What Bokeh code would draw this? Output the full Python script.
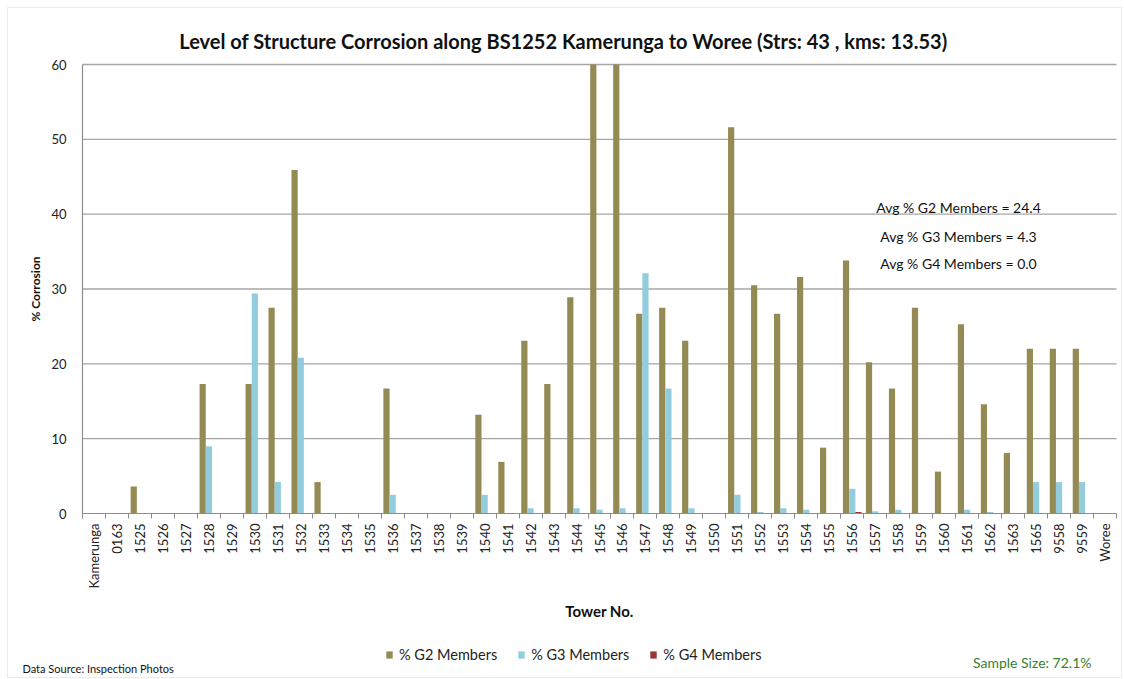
from math import pi

from bokeh.embed import file_html
from bokeh.models import (BoxAnnotation, ColumnDataSource, FixedTicker, Label,
                          Legend, LegendItem, Range1d)
from bokeh.plotting import figure
from bokeh.resources import INLINE
from bokeh.transform import dodge

# Towers along the line, in order
towers = ["Kamerunga", "0163", "1525", "1526", "1527", "1528", "1529", "1530",
          "1531", "1532", "1533", "1534", "1535", "1536", "1537", "1538",
          "1539", "1540", "1541", "1542", "1543", "1544", "1545", "1546",
          "1547", "1548", "1549", "1550", "1551", "1552", "1553", "1554",
          "1555", "1556", "1557", "1558", "1559", "1560", "1561", "1562",
          "1563", "1565", "9558", "9559", "Woree"]

# % of members per corrosion grade
g2 = [0, 0, 3.6, 0, 0, 17.3, 0, 17.3, 27.5, 45.9, 4.2, 0, 0, 16.7, 0, 0,
      0, 13.2, 6.9, 23.1, 17.3, 28.9, 69.4, 69.4, 26.7, 27.5, 23.1, 0, 51.6, 30.5,
      26.7, 31.6, 8.8, 33.8, 20.2, 16.7, 27.5, 5.6, 25.3, 14.6, 8.1, 22.0,
      22.0, 22.0, 0]
g3 = [0, 0, 0, 0, 0, 9.0, 0, 29.4, 4.2, 20.8, 0, 0, 0, 2.5, 0, 0,
      0, 2.5, 0, 0.7, 0, 0.7, 0.5, 0.7, 32.1, 16.7, 0.7, 0, 2.5, 0.2,
      0.7, 0.5, 0, 3.3, 0.3, 0.5, 0, 0, 0.5, 0.2, 0, 4.2,
      4.2, 4.2, 0]
g4 = [0, 0, 0, 0, 0, 0, 0, 0, 0, 0, 0, 0, 0, 0, 0, 0,
      0, 0, 0, 0, 0, 0, 0, 0, 0, 0, 0, 0, 0, 0,
      0, 0, 0, 0.2, 0, 0, 0, 0, 0, 0, 0, 0,
      0, 0, 0]

series_names = ["% G2 Members", "% G3 Members", "% G4 Members"]
series_colors = ["#948a54", "#93cddd", "#953735"]
avg_text = ["Avg % G2 Members = 24.4", "Avg % G3 Members = 4.3",
            "Avg % G4 Members = 0.0"]
y_ticks = [0, 10, 20, 30, 40, 50, 60]
Y_MAX = 60

FONT = "Lato"
W, H = 1124, 679

# The plotting area occupies pixels 82..1116 horizontally and 64..513
# vertically; the data ranges are widened so that the frame fills the
# whole canvas and the notes around the chart can be drawn inside it.
n = len(towers)
px_per_x = (1116 - 82) / n
px_per_y = (513 - 64) / Y_MAX
x_range = Range1d(-0.5 - 82 / px_per_x, n - 0.5 + (W - 1116) / px_per_x)
y_range = Range1d(-(H - 513) / px_per_y, Y_MAX + 64 / px_per_y)


def capped(values):
    # bars stop at the top of the value axis
    return [min(v, Y_MAX) for v in values]


src = ColumnDataSource(dict(idx=list(range(n)), tower=towers,
                            g2=capped(g2), g3=capped(g3), g4=capped(g4)))

p = figure(width=W, height=H, output_backend="svg", toolbar_location=None,
           x_range=x_range, y_range=y_range,
           min_border_left=0, min_border_right=0, min_border_top=0,
           min_border_bottom=0)
p.outline_line_color = None
p.background_fill_color = "white"
p.border_fill_color = "white"
p.xgrid.visible = False
p.ygrid.visible = False

# outer chart border
p.add_layout(BoxAnnotation(left=7, right=W - 3, bottom=2, top=H - 7,
                           left_units="screen", right_units="screen",
                           bottom_units="screen", top_units="screen",
                           fill_alpha=0, line_color="#bfbfbf", line_width=1))

# horizontal grid lines across the tower span
grid_src = ColumnDataSource(dict(y=y_ticks[1:]))
p.segment(x0=-0.5, x1=n - 0.5, y0="y", y1="y", source=grid_src,
          line_color="#a6a6a6", line_width=1.3)

# bars, three per tower
bar_w = 0.27
renderers = []
for col, off, color in zip(["g2", "g3", "g4"], [-0.27, 0.0, 0.27], series_colors):
    r = p.vbar(x=dodge("idx", off, range=p.x_range), top=col, width=bar_w,
               bottom=0, source=src, fill_color=color, line_color=None)
    renderers.append(r)

# category axis along y = 0, ticks between towers
xa = p.xaxis[0]
xa.fixed_location = 0
xa.bounds = (-0.5, n - 0.5)
xa.ticker = FixedTicker(ticks=list(range(n)),
                        minor_ticks=[i - 0.5 for i in range(n + 1)])
xa.major_label_overrides = {i: t for i, t in enumerate(towers)}
xa.major_label_orientation = pi / 2
xa.major_tick_line_color = None
xa.major_tick_out = 0
xa.major_tick_in = 0
xa.minor_tick_line_color = "#8c8c8c"
xa.minor_tick_out = 5
xa.minor_tick_in = 0
xa.axis_line_color = "#8c8c8c"
xa.axis_line_width = 1.2
xa.major_label_text_font = FONT
xa.major_label_text_font_size = "13px"
xa.major_label_text_color = "#222222"
xa.major_label_standoff = 5
xa.axis_label = "Tower No."
xa.axis_label_text_font = FONT
xa.axis_label_text_font_size = "15px"
xa.axis_label_text_font_style = "bold"
xa.axis_label_text_color = "#111111"
xa.axis_label_standoff = 10

# value axis at the left edge of the first tower
ya = p.yaxis[0]
ya.fixed_location = -0.5
ya.bounds = (0, Y_MAX)
ya.ticker = FixedTicker(ticks=y_ticks)
ya.major_tick_line_color = None
ya.minor_tick_line_color = None
ya.axis_line_color = "#8c8c8c"
ya.axis_line_width = 1.2
ya.major_label_text_font = FONT
ya.major_label_text_font_size = "13px"
ya.major_label_text_color = "#222222"
ya.major_label_standoff = 10
ya.axis_label = "% Corrosion"
ya.axis_label_text_font = FONT
ya.axis_label_text_font_size = "12px"
ya.axis_label_text_font_style = "bold"
ya.axis_label_text_color = "#111111"
ya.axis_label_standoff = 5

# legend under the chart
legend = Legend(items=[LegendItem(label=s, renderers=[r])
                       for s, r in zip(series_names, renderers)],
                orientation="horizontal", location=(385, 16),
                background_fill_alpha=0, border_line_color=None,
                padding=0, margin=0, spacing=20, label_standoff=6,
                glyph_width=8, glyph_height=9, label_height=16,
                label_text_font=FONT, label_text_font_size="14.5px",
                label_text_color="#222222")
p.add_layout(legend, "center")


def note(text, x, y, size, bold=False, color="#111111", align="left"):
    """Text placed in canvas pixels, y measured from the top."""
    p.add_layout(Label(x=x, y=H - y, x_units="screen", y_units="screen",
                       text=text, text_font=FONT, text_font_size=size,
                       text_font_style="bold" if bold else "normal",
                       text_color=color, text_align=align,
                       text_baseline="middle"))


note("Level of Structure Corrosion along BS1252 Kamerunga to Woree (Strs: 43 , kms: 13.53)",
     563, 40, "20px", bold=True, align="center")
for t, yy in zip(avg_text, [207, 236, 263]):
    note(t, 958, yy, "14px", align="center")
note("Data Source: Inspection Photos", 22, 668, "11px")
note("Sample Size: 72.1%", 1091, 662, "14px", color="#38802c", align="right")

open("out.html", "w").write(file_html(p, INLINE))
